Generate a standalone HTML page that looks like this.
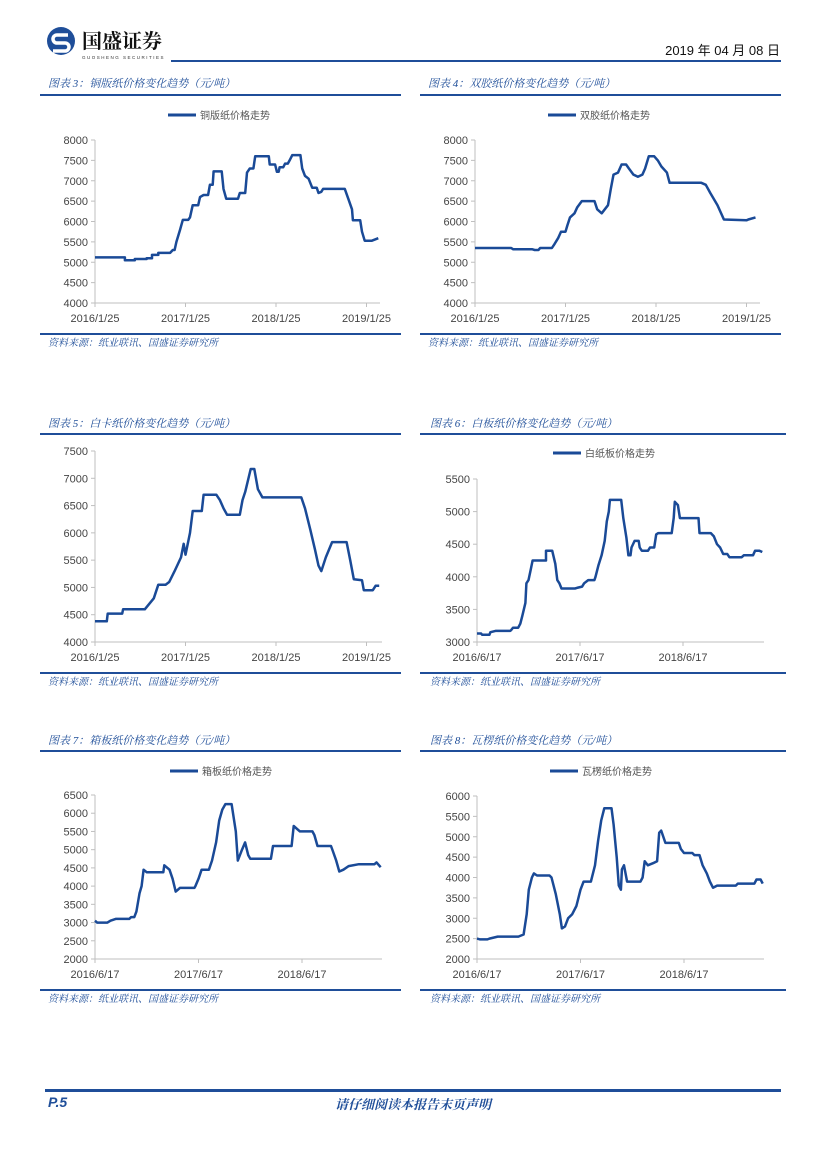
<!DOCTYPE html>
<html><head><meta charset="utf-8">
<style>
html,body{margin:0;padding:0;background:#fff;}
body{width:827px;height:1169px;position:relative;overflow:hidden;font-family:"Liberation Sans","Noto Sans CJK SC",sans-serif;}
.abs{position:absolute;}
.title{position:absolute;font-size:11px;color:#1f4e99;font-style:italic;font-family:"Liberation Serif","Noto Serif CJK SC",serif;white-space:nowrap;}
.src{position:absolute;font-size:10px;color:#1f4e99;font-style:italic;font-family:"Liberation Serif","Noto Serif CJK SC",serif;white-space:nowrap;}
.rule{position:absolute;height:2px;background:#1f4e99;}
svg text{font-family:"Liberation Sans","Noto Sans CJK SC",sans-serif;}
</style></head>
<body>
<div class="abs" style="left:45px;top:26px;width:130px;height:34px;">
  <svg width="130" height="34">
    <circle cx="16" cy="15" r="14" fill="#1f4e99"/>
    <path d="M23 9 H12 a4 4 0 0 0 0 8 H20 a4 4 0 0 1 0 8 H8" stroke="#fff" stroke-width="3.5" fill="none"/>
    <text x="37" y="22" font-size="20" font-weight="bold" fill="#111" style="font-family:'Noto Serif CJK SC',serif">国盛证券</text>
    <text x="37" y="33" font-size="4.5" fill="#333" letter-spacing="1.5">GUOSHENG SECURITIES</text>
  </svg>
</div>
<div class="abs" style="left:650px;top:40px;width:130px;text-align:right;font-size:13px;color:#111;font-family:'Liberation Sans','Noto Sans CJK SC',sans-serif;">2019 年 04 月 08 日</div>
<div class="rule" style="left:171px;top:60px;width:610px;"></div>

<div class="title" style="left:48px;top:75px;">图表 3：铜版纸价格变化趋势（元/吨）</div>
<div class="rule" style="left:40px;top:94px;width:361px;"></div>
<div class="title" style="left:428px;top:75px;">图表 4：双胶纸价格变化趋势（元/吨）</div>
<div class="rule" style="left:420px;top:94px;width:361px;"></div>
<div class="rule" style="left:40px;top:333px;width:361px;"></div>
<div class="src" style="left:48px;top:334px;">资料来源：纸业联讯、国盛证券研究所</div>
<div class="rule" style="left:420px;top:333px;width:361px;"></div>
<div class="src" style="left:428px;top:334px;">资料来源：纸业联讯、国盛证券研究所</div>

<div class="title" style="left:48px;top:415px;">图表 5：白卡纸价格变化趋势（元/吨）</div>
<div class="rule" style="left:40px;top:433px;width:361px;"></div>
<div class="title" style="left:430px;top:415px;">图表 6：白板纸价格变化趋势（元/吨）</div>
<div class="rule" style="left:420px;top:433px;width:366px;"></div>
<div class="rule" style="left:40px;top:672px;width:361px;"></div>
<div class="src" style="left:48px;top:673px;">资料来源：纸业联讯、国盛证券研究所</div>
<div class="rule" style="left:420px;top:672px;width:366px;"></div>
<div class="src" style="left:430px;top:673px;">资料来源：纸业联讯、国盛证券研究所</div>

<div class="title" style="left:48px;top:732px;">图表 7：箱板纸价格变化趋势（元/吨）</div>
<div class="rule" style="left:40px;top:750px;width:361px;"></div>
<div class="title" style="left:430px;top:732px;">图表 8：瓦楞纸价格变化趋势（元/吨）</div>
<div class="rule" style="left:420px;top:750px;width:366px;"></div>
<div class="rule" style="left:40px;top:989px;width:361px;"></div>
<div class="src" style="left:48px;top:990px;">资料来源：纸业联讯、国盛证券研究所</div>
<div class="rule" style="left:420px;top:989px;width:366px;"></div>
<div class="src" style="left:430px;top:990px;">资料来源：纸业联讯、国盛证券研究所</div>

<div class="rule" style="left:45px;top:1089px;width:736px;height:3px;"></div>
<div class="abs" style="left:48px;top:1094px;font-size:14px;font-weight:bold;font-style:italic;color:#1f4e99;">P.5</div>
<div class="abs" style="left:300px;top:1094px;width:226px;text-align:center;font-size:13px;font-weight:bold;font-style:italic;color:#1f4e99;font-family:'Liberation Serif','Noto Serif CJK SC',serif;">请仔细阅读本报告末页声明</div>

<svg id="charts" class="abs" style="left:0;top:0" width="827" height="1169"></svg>

<script>
const c1Dates=[0,0.33,0.33,0.44,0.44,0.57,0.57,0.63,0.63,0.70,0.70,0.83,0.86,0.88,0.90,0.94,0.97,1.03,1.05,1.08,1.14,1.16,1.20,1.25,1.27,1.30,1.31,1.40,1.42,1.45,1.58,1.60,1.66,1.68,1.71,1.75,1.77,1.92,1.93,1.99,2.01,2.03,2.04,2.08,2.10,2.13,2.15,2.18,2.27,2.29,2.32,2.36,2.40,2.45,2.47,2.50,2.52,2.76,2.80,2.84,2.85,2.93,2.95,2.98,3.06,3.13];
const c1Values=[5120,5120,5050,5050,5080,5080,5100,5100,5180,5180,5230,5230,5300,5300,5500,5800,6040,6040,6100,6400,6400,6600,6650,6650,6900,6900,7230,7230,6800,6560,6560,6700,6700,7200,7300,7300,7600,7600,7400,7400,7220,7220,7330,7330,7420,7420,7500,7630,7630,7300,7120,7050,6830,6830,6700,6730,6800,6800,6550,6300,6030,6030,5750,5530,5530,5590];
const c2Dates=[0,0.40,0.42,0.63,0.66,0.70,0.72,0.85,0.88,0.92,0.95,1.00,1.02,1.05,1.10,1.13,1.18,1.32,1.35,1.40,1.47,1.50,1.53,1.58,1.62,1.67,1.70,1.75,1.80,1.85,1.88,1.92,1.98,2.02,2.06,2.12,2.15,2.50,2.55,2.60,2.68,2.75,3.00,3.02,3.10];
const c2Values=[5350,5350,5320,5320,5300,5300,5350,5350,5450,5600,5750,5750,5900,6100,6200,6350,6500,6500,6300,6200,6400,6800,7150,7200,7400,7400,7300,7150,7100,7150,7300,7600,7600,7500,7350,7200,6950,6950,6900,6700,6400,6050,6030,6050,6100];
const c3Dates=[0,0.13,0.14,0.30,0.31,0.55,0.60,0.65,0.70,0.78,0.82,0.88,0.95,0.98,1.00,1.05,1.08,1.18,1.20,1.34,1.38,1.42,1.46,1.60,1.63,1.66,1.72,1.76,1.80,1.85,2.28,2.32,2.38,2.43,2.47,2.50,2.55,2.62,2.78,2.82,2.86,2.95,2.97,3.07,3.10,3.14];
const c3Values=[4380,4380,4520,4520,4600,4600,4700,4800,5050,5050,5100,5300,5550,5800,5600,6000,6400,6400,6700,6700,6600,6450,6330,6330,6600,6750,7170,7170,6800,6650,6650,6450,6050,5700,5400,5300,5550,5830,5830,5500,5150,5130,4950,4950,5030,5030];
const c4Dates=[0,0.04,0.05,0.12,0.13,0.18,0.32,0.33,0.35,0.40,0.42,0.44,0.47,0.48,0.50,0.52,0.54,0.67,0.67,0.73,0.76,0.78,0.80,0.82,0.95,0.97,1.02,1.04,1.08,1.14,1.15,1.18,1.21,1.24,1.26,1.28,1.29,1.40,1.42,1.45,1.47,1.49,1.50,1.53,1.57,1.58,1.60,1.66,1.68,1.72,1.74,1.76,1.89,1.91,1.92,1.95,1.97,2.15,2.16,2.27,2.30,2.33,2.36,2.39,2.43,2.45,2.57,2.59,2.68,2.70,2.74,2.77];
const c4Values=[3130,3130,3110,3110,3150,3170,3170,3180,3220,3220,3280,3400,3600,3900,3950,4100,4250,4250,4400,4400,4200,3950,3900,3820,3820,3830,3850,3900,3950,3950,4000,4180,4330,4550,4850,5000,5180,5180,4900,4600,4330,4330,4450,4550,4550,4450,4400,4400,4450,4450,4650,4670,4670,4900,5150,5100,4900,4900,4670,4670,4620,4500,4450,4350,4350,4300,4300,4330,4330,4400,4400,4380];
const c5Dates=[0,0.02,0.12,0.15,0.20,0.33,0.35,0.38,0.40,0.43,0.45,0.47,0.50,0.66,0.67,0.72,0.75,0.78,0.80,0.82,0.96,0.97,1.00,1.03,1.10,1.13,1.17,1.20,1.23,1.26,1.32,1.36,1.38,1.42,1.45,1.48,1.50,1.70,1.72,1.90,1.92,1.98,2.10,2.12,2.15,2.28,2.30,2.33,2.36,2.40,2.45,2.55,2.70,2.72,2.76];
const c5Values=[3050,3000,3000,3050,3100,3100,3150,3150,3300,3800,4000,4450,4380,4380,4570,4450,4200,3850,3900,3950,3950,4000,4200,4450,4450,4700,5200,5800,6100,6250,6250,5500,4700,5000,5200,4850,4750,4750,5100,5100,5650,5500,5500,5400,5100,5100,4950,4700,4400,4450,4550,4600,4600,4650,4520];
const c6Dates=[0,0.03,0.10,0.12,0.20,0.40,0.45,0.48,0.50,0.53,0.55,0.58,0.70,0.72,0.76,0.80,0.82,0.85,0.88,0.92,0.96,1.00,1.03,1.10,1.14,1.17,1.20,1.23,1.30,1.32,1.35,1.37,1.39,1.40,1.42,1.45,1.58,1.60,1.62,1.65,1.70,1.74,1.76,1.78,1.82,1.95,1.97,2.00,2.08,2.10,2.15,2.18,2.22,2.25,2.28,2.32,2.50,2.52,2.68,2.70,2.74,2.76];
const c6Values=[2500,2480,2480,2500,2550,2550,2600,3100,3700,4000,4100,4050,4050,4000,3600,3100,2750,2800,3000,3100,3300,3700,3900,3900,4300,4900,5400,5700,5700,5300,4500,3800,3700,4200,4300,3900,3900,4000,4400,4300,4350,4400,5100,5150,4850,4850,4700,4600,4600,4550,4550,4300,4100,3900,3750,3800,3800,3850,3850,3950,3950,3850];
const yTicks1=["4000","4500","5000","5500","6000","6500","7000","7500","8000"];
const yTicks3=["4000","4500","5000","5500","6000","6500","7000","7500"];
const yTicks4=["3000","3500","4000","4500","5000","5500"];
const yTicks5=["2000","2500","3000","3500","4000","4500","5000","5500","6000","6500"];
const yTicks6=["2000","2500","3000","3500","4000","4500","5000","5500","6000"];
const xTicksA=["2016/1/25","2017/1/25","2018/1/25","2019/1/25"];
const xTicksB=["2016/6/17","2017/6/17","2018/6/17"];

const NS="http://www.w3.org/2000/svg";
const svg=document.getElementById('charts');
function mk(tag,attrs,parent){const e=document.createElementNS(NS,tag);for(const k in attrs)e.setAttribute(k,attrs[k]);(parent||svg).appendChild(e);return e;}

function chart(id,dates,values,yTicks,xTicks,g){
  const grp=mk('g',{});
  
  
  const yMin=+yTicks[0],yMax=+yTicks[yTicks.length-1];
  const ys=v=>g.y0+(v-yMin)/(yMax-yMin)*(g.y1-g.y0);
  const xs=t=>g.x0+t*g.pxYear;
  const ax=mk('line',{x1:g.x0,x2:g.x0,y1:g.y1,y2:g.y0,stroke:'#bfbfbf','stroke-width':1},grp);
  
  
  const bx=mk('line',{x1:g.x0,x2:g.xEnd,y1:g.y0,y2:g.y0,stroke:'#bfbfbf','stroke-width':1},grp);
  
  
  yTicks.forEach(tk=>{
    const y=ys(+tk);
    mk('line',{x1:g.x0-4,x2:g.x0,y1:y,y2:y,stroke:'#bfbfbf'},grp);
    const t=mk('text',{x:g.x0-7,y:y+4,'text-anchor':'end','font-size':11,fill:'#444'},grp);
    t.textContent=tk;
    
    
  });
  xTicks.forEach((tk,i)=>{
    const x=xs(i);
    mk('line',{x1:x,x2:x,y1:g.y0,y2:g.y0+4,stroke:'#bfbfbf'},grp);
    const t=mk('text',{x:x,y:g.y0+19,'text-anchor':'middle','font-size':11,fill:'#444'},grp);
    t.textContent=tk;
    
    
  });
  const pts=dates.map((d,i)=>xs(d).toFixed(1)+','+ys(values[i]).toFixed(1)).join(' ');
  const pl=mk('polyline',{points:pts,fill:'none',stroke:'#1a4a97','stroke-width':2.5,'stroke-linejoin':'round'},grp);
  
  
  if(g.legend){
    const lg=mk('g',{},grp);
    
    
    mk('line',{x1:g.legend[0],x2:g.legend[0]+28,y1:g.legend[1],y2:g.legend[1],stroke:'#1a4a97','stroke-width':3},lg);
    const t=mk('text',{x:g.legend[0]+32,y:g.legend[1]+4,'font-size':10,fill:'#555'},lg);
    t.textContent=g.legendText;
  }
}
chart('chart-coated-paper',c1Dates,c1Values,yTicks1,xTicksA,{x0:95,y0:303,y1:140,pxYear:90.5,xEnd:380,legend:[168,115],legendText:'铜版纸价格走势'});
chart('chart-offset-paper',c2Dates,c2Values,yTicks1,xTicksA,{x0:475,y0:303,y1:140,pxYear:90.5,xEnd:760,legend:[548,115],legendText:'双胶纸价格走势'});
chart('chart-ivory-board',c3Dates,c3Values,yTicks3,xTicksA,{x0:95,y0:642,y1:451,pxYear:90.5,xEnd:382});
chart('chart-white-board',c4Dates,c4Values,yTicks4,xTicksB,{x0:477,y0:642,y1:479,pxYear:103,xEnd:764,legend:[553,453],legendText:'白纸板价格走势'});
chart('chart-container-board',c5Dates,c5Values,yTicks5,xTicksB,{x0:95,y0:959,y1:795,pxYear:103.5,xEnd:382,legend:[170,771],legendText:'箱板纸价格走势'});
chart('chart-corrugated-paper',c6Dates,c6Values,yTicks6,xTicksB,{x0:477,y0:959,y1:796,pxYear:103.5,xEnd:764,legend:[550,771],legendText:'瓦楞纸价格走势'});
</script>
</body></html>
